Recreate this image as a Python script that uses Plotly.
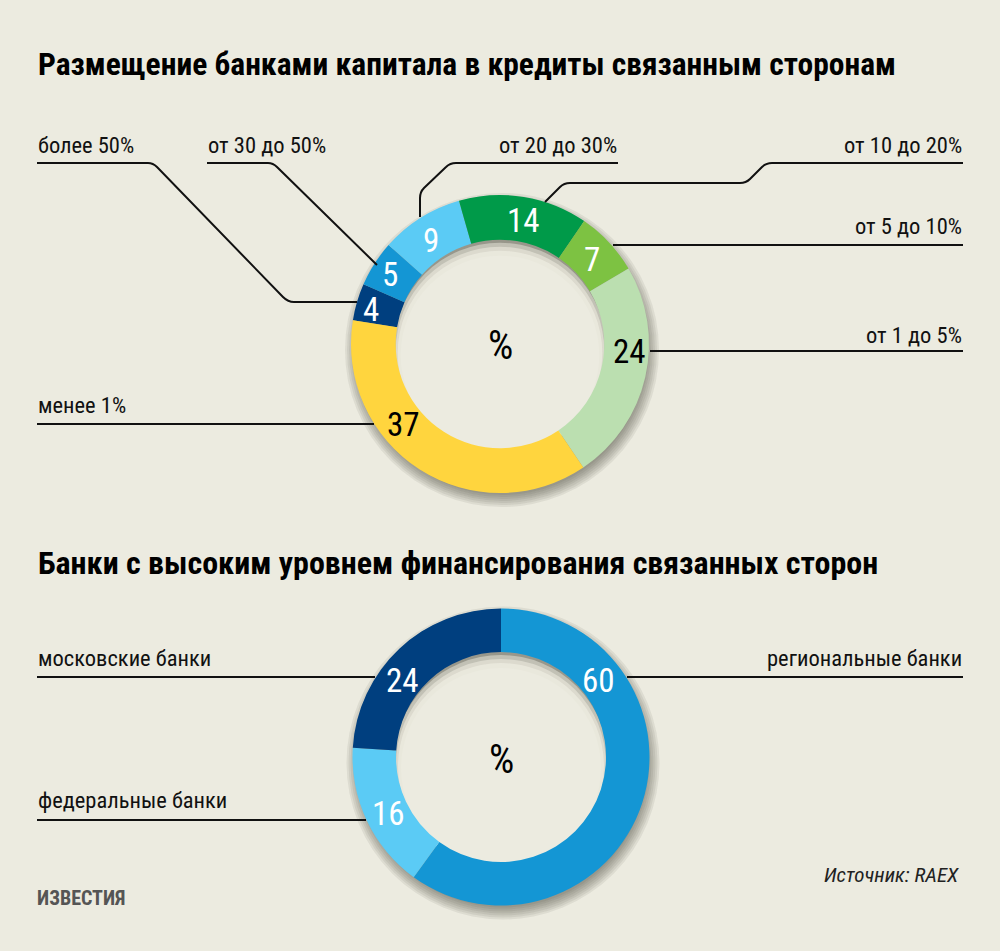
import plotly.graph_objects as go

W, H = 1000, 951
BG = "#ECEBE0"
FONT = "'Noto Sans Condensed', 'Liberation Sans Narrow', 'Roboto Condensed', Roboto, sans-serif"
FONT_PLAIN = "Roboto, sans-serif"

# ---------------- data ----------------
title_top = "Размещение банками капитала в кредиты связанным сторонам"
title_bottom = "Банки с высоким уровнем финансирования связанных сторон"

top_labels = ["более 50%", "от 30 до 50%", "от 20 до 30%", "от 10 до 20%",
              "от 5 до 10%", "от 1 до 5%", "менее 1%"]
top_values = [4, 5, 9, 14, 7, 24, 37]

bottom_labels = ["региональные банки", "федеральные банки", "московские банки"]
bottom_values = [60, 16, 24]

center_unit = "%"
source_text = "Источник: RAEX"
logo_text = "ИЗВЕСТИЯ"

# ---------------- styles ----------------
top_colors = ["#003F7F", "#1496D4", "#5BCBF5", "#009A49", "#7DC242", "#BBDFB0", "#FFD53E"]
top_text_colors = ["white", "white", "white", "white", "white", "black", "black"]
bottom_colors = ["#1496D4", "#5BCBF5", "#003F7F"]
bottom_text_colors = ["white", "white", "white"]

# donut geometry (pixels): center x, center y, outer radius, hole fraction
TOP = dict(cx=500, cy=344, r=149, hole=0.70, rotation=-80.8)
BOT = dict(cx=501, cy=757, r=148.5, hole=0.707, rotation=0)

# value label positions (pixels)
top_value_pos = [(371, 309), (390, 274), (431, 240), (523, 220), (592, 259), (629, 352), (403, 424)]
bottom_value_pos = [(598, 680), (388, 813), (402, 680)]

# category label positions: (x, y, anchor)
top_label_pos = [(37, 145, "left"), (207, 145, "left"), (618, 145, "right"), (963, 145, "right"),
                 (963, 226, "right"), (963, 335, "right"), (37, 405, "left")]
bottom_label_pos = [(963, 658, "right"), (37, 800, "left"), (37, 658, "left")]

# leader lines (pixel polylines; ("Q", cx, cy, x, y) for rounded corners)
top_leaders = [
    [(37, 163), (148, 163), ("Q", 153, 163, 157, 167), (283, 297), ("Q", 288, 302, 294, 302), (357, 302)],
    [(207, 163), (268, 163), ("Q", 273, 163, 277, 167), (377, 265)],
    [(618, 163), (456, 163), ("Q", 450, 163, 446, 167), (424, 188), ("Q", 420, 192, 420, 198), (420, 217)],
    [(963, 163), (772, 163), ("Q", 766, 163, 762, 167), (750, 179), ("Q", 746, 183, 740, 183),
     (570, 183), ("Q", 564, 183, 560, 187), (545, 202)],
    [(963, 245), (613, 245)],
    [(963, 351), (650, 351)],
    [(37, 424), (374, 424)],
]
bottom_leaders = [
    [(963, 677), (627, 677)],
    [(37, 820), (366, 820)],
    [(37, 677), (375, 677)],
]


def px(x):
    return x / W


def py(y):
    return 1 - y / H


def pt(x, y):
    return f"{px(x):.5f},{py(y):.5f}"


def path_from(seq):
    s = ""
    for i, p in enumerate(seq):
        if p[0] == "Q":
            s += f" Q{pt(p[1], p[2])} {pt(p[3], p[4])}"
        elif i == 0:
            s += f"M{pt(*p)}"
        else:
            s += f" L{pt(*p)}"
    return s


def circle(cx, cy, r, fill, layer="below"):
    return dict(type="circle", xref="paper", yref="paper", layer=layer,
                x0=px(cx - r), x1=px(cx + r), y0=py(cy + r), y1=py(cy - r),
                fillcolor=fill, line=dict(width=0))


def ann(x, y, text, size, color, xa="center", family=FONT):
    return dict(x=px(x), y=py(y), xref="paper", yref="paper", text=text,
                xanchor=xa, yanchor="middle", showarrow=False, borderpad=0,
                font=dict(family=family, size=size, color=color))


fig = go.Figure()
shapes = []
annotations = []


def add_donut(g, labels, values, colors):
    cx, cy, r = g["cx"], g["cy"], g["r"]
    rin = r * g["hole"]
    # outer drop shadow
    for k in range(7):
        shapes.append(circle(cx + 2, cy + 6, r - 4 + 2 * k, "rgba(40,40,30,0.075)"))
    # inner shadow inside the hole: background discs shifted downward
    for dy, rr, op in [(5, rin + 2, 0.5), (7, rin, 0.6), (9, rin - 2, 0.8), (11, rin - 5, 1.0)]:
        shapes.append(circle(cx, cy + dy, rr, BG if op == 1.0 else f"rgba(236,235,224,{op})"))
    fig.add_trace(go.Pie(
        labels=labels, values=values, sort=False, direction="clockwise",
        rotation=g["rotation"], hole=g["hole"],
        marker=dict(colors=colors, line=dict(width=0)),
        textinfo="none", hoverinfo="label+value", showlegend=False,
        domain=dict(x=[px(cx - r), px(cx + r)], y=[py(cy + r), py(cy - r)]),
    ))
    annotations.append(ann(cx, cy + 2, center_unit, 40, "black"))


add_donut(TOP, top_labels, top_values, top_colors)
add_donut(BOT, bottom_labels, bottom_values, bottom_colors)

for vals, pos, tcols in [(top_values, top_value_pos, top_text_colors),
                         (bottom_values, bottom_value_pos, bottom_text_colors)]:
    for v, (x, y), c in zip(vals, pos, tcols):
        annotations.append(ann(x, y, str(v), 33, c))

for labs, pos in [(top_labels, top_label_pos), (bottom_labels, bottom_label_pos)]:
    for t, (x, y, a) in zip(labs, pos):
        annotations.append(ann(x, y, t, 22.5, "#111", xa=a))

for seq in top_leaders + bottom_leaders:
    shapes.append(dict(type="path", xref="paper", yref="paper", layer="above",
                       path=path_from(seq), line=dict(color="#111", width=2)))

annotations.append(ann(37, 64, f"<b>{title_top}</b>", 31.5, "black", xa="left"))
annotations.append(ann(37, 563, f"<b>{title_bottom}</b>", 32, "black", xa="left"))

annotations.append(ann(960, 875, f"<i>{source_text}</i>", 21, "#222", xa="right"))
annotations.append(ann(36, 898, f"<b>{logo_text}</b>", 20, "#555", xa="left"))

fig.update_layout(
    width=W, height=H, margin=dict(l=0, r=0, t=0, b=0),
    paper_bgcolor=BG, plot_bgcolor=BG,
    shapes=shapes, annotations=annotations,
)

fig.write_html("out.html")
